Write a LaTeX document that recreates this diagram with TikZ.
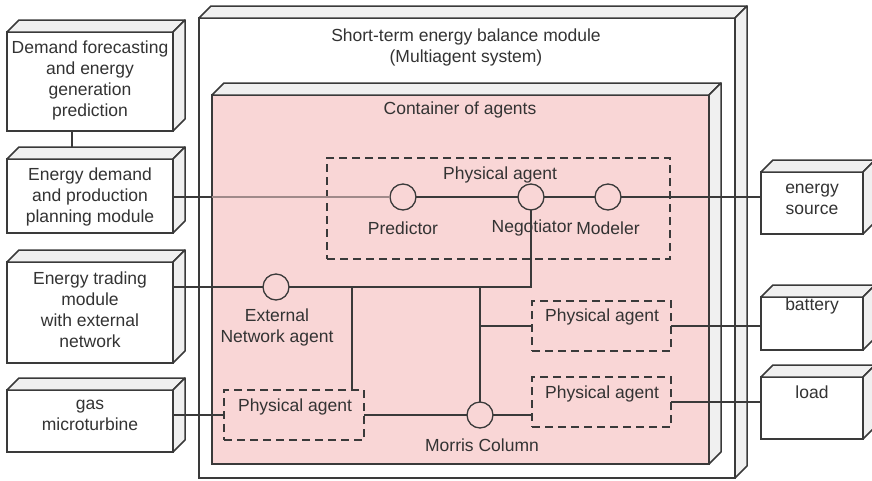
\documentclass[tikz,border=0pt]{standalone}
\usepackage{fontspec}
\setmainfont{Liberation Sans}
\usetikzlibrary{calc}

\definecolor{ink}{HTML}{3A3A3A}
\definecolor{txt}{HTML}{333333}
\definecolor{agentpink}{HTML}{F9D6D6}
\definecolor{sideface}{HTML}{F0F0F0}
\definecolor{faintline}{HTML}{A08A8A}

\tikzset{
  unitbox/.style={draw=ink, line width=1.5pt, inner sep=0pt, outer sep=0pt},
  face/.style={draw=ink, line width=1.5pt, fill=sideface, line join=round},
  agentgroup/.style={draw=ink, line width=1.3pt, dash pattern=on 8pt off 5pt,
    inner sep=0pt, outer sep=0pt},
  port/.style={circle, draw=ink, line width=1.3pt, fill=agentpink,
    minimum size=26pt, inner sep=0pt, outer sep=0pt},
  conn/.style={draw=ink, line width=1.3pt},
  lbl/.style={text=txt, inner sep=0pt, align=center},
}

% 3D deployment box: name, x1, y1, x2, y2, front fill
\newcommand\solidbox[6]{%
  \node[unitbox, fill=#6, minimum width={(#4-#2)*1pt}, minimum height={(#5-#3)*1pt}]
    (#1) at ({(#2+#4)/2},{(#3+#5)/2}) {};
  \draw[face] (#1.north west) -- ++(12,-12) -- ($(#1.north east)+(12,-12)$)
    -- (#1.north east) -- cycle;
  \draw[face] (#1.north east) -- ++(12,-12) -- ($(#1.south east)+(12,-12)$)
    -- (#1.south east) -- cycle;
}
% dashed agent group: name, x1, y1, x2, y2
\newcommand\agentbox[5]{%
  \node[agentgroup, minimum width={(#4-#2)*1pt}, minimum height={(#5-#3)*1pt}]
    (#1) at ({(#2+#4)/2},{(#3+#5)/2}) {};
}

\begin{document}
\begin{tikzpicture}[x=1pt, y=-1pt, font=\fontsize{17.5}{21}\selectfont]
\useasboundingbox (0,0) rectangle (872,480);

% module frame and agent container
\solidbox{module}{199}{18}{735}{478}{white}
\solidbox{cont}{212}{95}{709}{464}{agentpink}

% external modules
\solidbox{b1}{7}{32}{173}{131}{white}
\solidbox{b2}{7}{159}{173}{233}{white}
\solidbox{b3}{7}{262}{173}{363}{white}
\solidbox{b4}{7}{390}{173}{452}{white}
\solidbox{es}{761}{172}{863}{234}{white}
\solidbox{bat}{761}{297}{863}{350}{white}
\solidbox{load}{761}{377}{863}{439}{white}

% texts of the boxes
\node[lbl] (t1) at (90,80) {Demand forecasting\\and energy\\generation\\prediction};
\node[lbl] (t2) at (90,197) {Energy demand\\and production\\planning module};
\node[lbl] (t3) at (90,310) {Energy trading\\module\\with external\\network};
\node[lbl] (t4) at (90,415) {gas\\microturbine};
\node[lbl] (tm) at (466,47) {Short-term energy balance module\\(Multiagent system)};
\node[lbl] (tc) at (460,110) {Container of agents};
\node[lbl] (tes) at (812,199) {energy\\source};
\node[lbl] (tbat) at (812,306) {battery};
\node[lbl] (tload) at (812,392) {load};

% agent groups
\agentbox{paTop}{327}{158}{670}{259}
\agentbox{paExt}{224}{390}{364}{440}
\agentbox{paA}{532}{301}{671}{351}
\agentbox{paB}{532}{377}{671}{427}
\node[lbl] (tpaTop) at (500,175) {Physical agent};
\node[lbl] (tpaExt) at (295,407) {Physical agent};
\node[lbl] (tpaA) at (602,317) {Physical agent};
\node[lbl] (tpaB) at (602,394) {Physical agent};

% interfaces
\node[port] (pred) at (403,197) {};
\node[port] (neg) at (531,197) {};
\node[port] (mod) at (608,197) {};
\node[port] (ext) at (276,287) {};
\node[port] (morris) at (480,415) {};
\node[lbl] (tpred) at (403,228) {Predictor};
\node[lbl] (tneg) at (532,228) {Negotiator};
\node[lbl] (tmod) at (608,228) {Modeler};
\node[lbl] (text) at (277,327) {External\\Network agent};
\node[lbl] (tmorris) at (482,445) {Morris Column};

% connectors
\draw[conn] ([xshift=65pt]b1.south west) -- ([xshift=65pt,yshift=12pt]b2.north west);
\draw[conn] (pred.west -| b2.east) -- (pred.west -| cont.west);
\draw[conn, draw=faintline] (pred.west -| cont.west) -- (pred.west);
\draw[conn] (pred.east) -- (neg.west);
\draw[conn] (neg.east) -- (mod.west);
\draw[conn] (mod.east) -- (mod.east -| es.west);
\draw[conn] (ext.west -| b3.east) -- (ext.west);
\draw[conn] (ext.east) -| (neg.south);
\coordinate (j1) at ([xshift=-12pt]paExt.north east);
\draw[conn] (j1) -- (j1 |- ext.center);
\draw[conn] (morris.north) -- (morris.north |- ext.center);
\draw[conn] (paA.west -| morris.north) -- (paA.west);
\draw[conn] (paExt.west -| b4.east) -- (paExt.west);
\draw[conn] (paExt.east) -- (morris.west);
\draw[conn] (morris.east) -- (morris.east -| paB.west);
\draw[conn] (paA.east) -- (paA.east -| bat.west);
\draw[conn] (paB.east) -- (paB.east -| load.west);
\end{tikzpicture}
\end{document}
